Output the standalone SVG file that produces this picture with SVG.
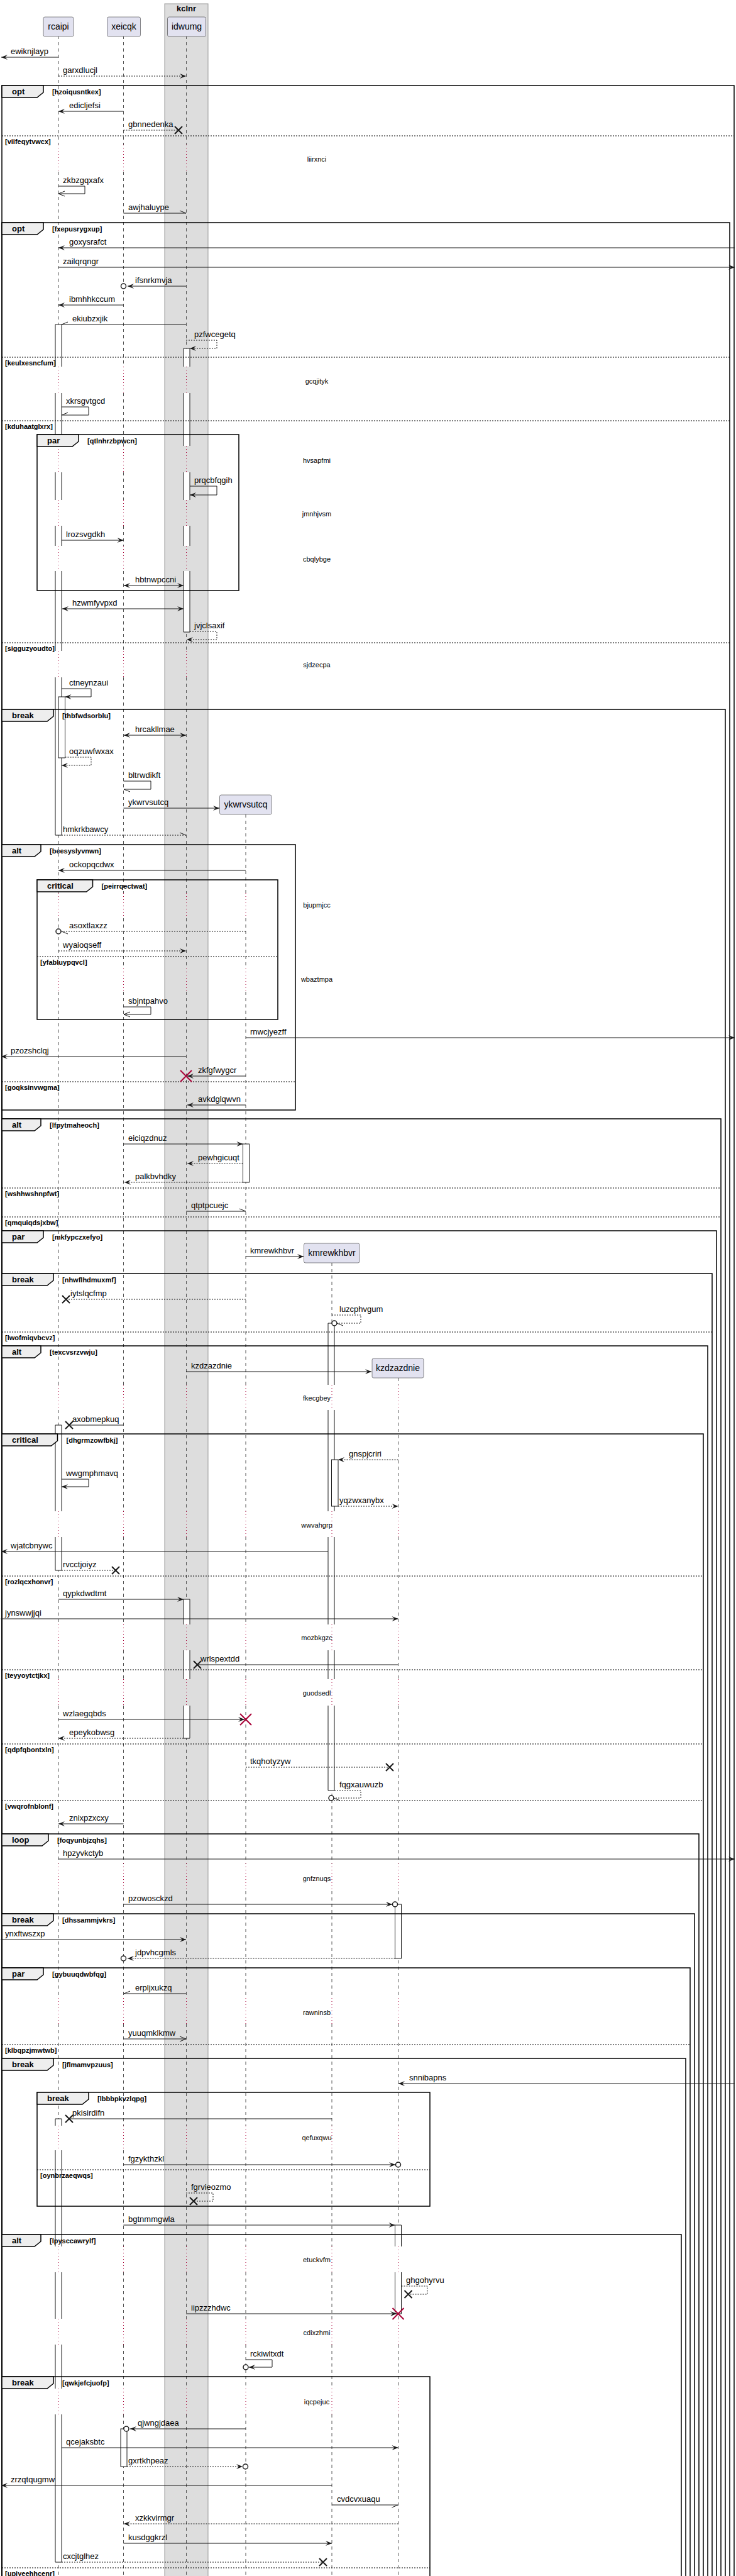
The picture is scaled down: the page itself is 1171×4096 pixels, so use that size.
<svg xmlns="http://www.w3.org/2000/svg" width="1171" height="4096" viewBox="0 0 1171 4096">
<style>
.msg{stroke:#181818;stroke-width:1;fill:none}
.dash{stroke-dasharray:2 2}
.lbl{font-family:"Liberation Sans",Arial,sans-serif;font-size:13px;fill:#000}
.cond{font-family:"Liberation Sans",Arial,sans-serif;font-size:11px;font-weight:bold;fill:#000}
.tabt{font-family:"Liberation Sans",Arial,sans-serif;font-size:13px;font-weight:bold;fill:#000}
.dly{font-family:"Liberation Sans",Arial,sans-serif;font-size:11px;fill:#000;text-anchor:middle}
.pname{font-family:"Liberation Sans",Arial,sans-serif;font-size:14px;fill:#000;text-anchor:middle}
.frame{fill:none;stroke:#000;stroke-width:1.5}
.tab{fill:#EEEEEE;stroke:#000;stroke-width:1.5}
.sep{stroke:#000;stroke-width:1;stroke-dasharray:2 2}
.life{stroke:#555;stroke-width:1;stroke-dasharray:5 5;fill:none}
.dot{stroke:#A80036;stroke-width:1;stroke-dasharray:1 4;fill:none}
.actf{fill:#fff;stroke:none}
.acts{fill:none;stroke:#181818;stroke-width:1}
.act{fill:#fff;stroke:#181818;stroke-width:1}
.part{fill:#E2E2F0;stroke:#181818;stroke-width:0.5}
.xb{stroke:#181818;stroke-width:2}
.xr{stroke:#A80036;stroke-width:2}
.circ{fill:#fff;stroke:#181818;stroke-width:1.5}
</style>
<defs>
<marker id="af" viewBox="0 0 12 10" refX="11" refY="5" markerWidth="12" markerHeight="10" markerUnits="userSpaceOnUse" orient="auto-start-reverse"><path d="M1,1 L11,5 L1,9 L5,5 Z" fill="#181818" stroke="none"/></marker>
<marker id="ao" viewBox="0 0 12 10" refX="11" refY="5" markerWidth="12" markerHeight="10" markerUnits="userSpaceOnUse" orient="auto"><path d="M1,1 L11,5 L1,9" fill="none" stroke="#181818" stroke-width="1"/></marker>
<marker id="hu" viewBox="0 0 12 10" refX="11" refY="5" markerWidth="12" markerHeight="10" markerUnits="userSpaceOnUse" orient="auto"><path d="M1,1 L11,5" fill="none" stroke="#181818" stroke-width="1"/></marker>
<marker id="hl" viewBox="0 0 12 10" refX="11" refY="5" markerWidth="12" markerHeight="10" markerUnits="userSpaceOnUse" orient="auto"><path d="M1,9 L11,5" fill="none" stroke="#181818" stroke-width="1"/></marker>
<path id="llA" d="M0,57 V230 M0,273 V583 M0,625 V709 M0,751 V795 M0,836 V868 M0,908 V1035 M0,1077 V1420 M0,1460 V1540 M0,1577 V2202 M0,2242 V2403 M0,2444 V2583 M0,2624 V2670 M0,2712 V2963 M0,3007 V3177 M0,3218 V3380 M0,3419 V3572 M0,3613 V3687 M0,3728 V3798 M0,3839 V4096"/>
<path id="dA" d="M0,230 V273 M0,583 V625 M0,709 V751 M0,795 V836 M0,868 V908 M0,1035 V1077 M0,1420 V1460 M0,1540 V1577 M0,2202 V2242 M0,2403 V2444 M0,2583 V2624 M0,2670 V2712 M0,2963 V3007 M0,3177 V3218 M0,3380 V3419 M0,3572 V3613 M0,3687 V3728 M0,3798 V3839"/>
<path id="llB" d="M0,1295 V1420 M0,1460 V1540 M0,1577 V2202 M0,2242 V2403 M0,2444 V2583 M0,2624 V2670 M0,2712 V2963 M0,3007 V3177 M0,3218 V3380 M0,3419 V3572 M0,3613 V3687 M0,3728 V3798 M0,3839 V4096"/>
<path id="dB" d="M0,1420 V1460 M0,1540 V1577 M0,2202 V2242 M0,2403 V2444 M0,2583 V2624 M0,2670 V2712 M0,2963 V3007 M0,3177 V3218 M0,3380 V3419 M0,3572 V3613 M0,3687 V3728 M0,3798 V3839"/>
<path id="llC" d="M0,2008 V2202 M0,2242 V2403 M0,2444 V2583 M0,2624 V2670 M0,2712 V2963 M0,3007 V3177 M0,3218 V3380 M0,3419 V3572 M0,3613 V3687 M0,3728 V3798 M0,3839 V4096"/>
<path id="llD" d="M0,2191 V2202 M0,2242 V2403 M0,2444 V2583 M0,2624 V2670 M0,2712 V2963 M0,3007 V3177 M0,3218 V3380 M0,3419 V3572 M0,3613 V3687 M0,3728 V3798 M0,3839 V4096"/>
<path id="dC" d="M0,2202 V2242 M0,2403 V2444 M0,2583 V2624 M0,2670 V2712 M0,2963 V3007 M0,3177 V3218 M0,3380 V3419 M0,3572 V3613 M0,3687 V3728 M0,3798 V3839"/>
</defs>
<rect x="0" y="0" width="1171" height="4096" fill="#fff"/>
<g id="box-kclnr">
<rect x="262" y="6" width="69" height="4100" fill="#DDDDDD" stroke="#999" stroke-width="1"/>
<text x="296.5" y="18" class="tabt" text-anchor="middle">kclnr</text>
</g>
<g id="lifelines">
<use href="#llA" x="93" class="life"/><use href="#dA" x="93" class="dot"/>
<use href="#llA" x="196.5" class="life"/><use href="#dA" x="196.5" class="dot"/>
<use href="#llA" x="296.5" class="life"/><use href="#dA" x="296.5" class="dot"/>
<use href="#llB" x="391" class="life"/><use href="#dB" x="391" class="dot"/>
<use href="#llC" x="528" class="life"/><use href="#dC" x="528" class="dot"/>
<use href="#llD" x="633.5" class="life"/><use href="#dC" x="633.5" class="dot"/>
</g>
<g id="p-rcaipi"><rect x="69" y="27" width="48" height="31" rx="2.5" class="part"/><text x="93" y="47" class="pname">rcaipi</text></g>
<g id="p-xeicqk"><rect x="170.5" y="27" width="53" height="31" rx="2.5" class="part"/><text x="197" y="47" class="pname">xeicqk</text></g>
<g id="p-idwumg"><rect x="266.5" y="27" width="61" height="31" rx="2.5" class="part"/><text x="297" y="47" class="pname">idwumg</text></g>
<g id="p-ykwrvsutcq"><rect x="349.5" y="1264" width="82.5" height="31" rx="2.5" class="part"/><text x="391" y="1284" class="pname">ykwrvsutcq</text></g>
<g id="p-kmrewkhbvr"><rect x="483.5" y="1977" width="88.5" height="31" rx="2.5" class="part"/><text x="528" y="1997" class="pname">kmrewkhbvr</text></g>
<g id="p-kzdzazdnie"><rect x="592" y="2160" width="82" height="31" rx="2.5" class="part"/><text x="633" y="2180" class="pname">kzdzazdnie</text></g>
<g id="activations">
<g><rect class="actf" x="88" y="516" width="10" height="67"/><rect class="actf" x="88" y="625" width="10" height="84"/><rect class="actf" x="88" y="751" width="10" height="44"/><rect class="actf" x="88" y="836" width="10" height="32"/><rect class="actf" x="88" y="908" width="10" height="127"/><rect class="actf" x="88" y="1077" width="10" height="251"/>
<path class="acts" d="M88,516 H98 M88,516 V583 M98,516 V583 M88,625 V709 M98,625 V709 M88,751 V795 M98,751 V795 M88,836 V868 M98,836 V868 M88,908 V1035 M98,908 V1035 M88,1077 V1328 M98,1077 V1328 M88,1328 H98"/></g>
<rect class="act" x="93" y="1108" width="10.5" height="97"/>
<g><rect class="actf" x="88" y="2266" width="10" height="137"/><rect class="actf" x="88" y="2444" width="10" height="53"/>
<path class="acts" d="M88,2266 H98 M88,2266 V2403 M98,2266 V2403 M88,2444 V2497 M98,2444 V2497 M88,2497 H98"/></g>
<g><rect class="actf" x="88" y="3369" width="10" height="11"/><rect class="actf" x="88" y="3419" width="10" height="153"/><rect class="actf" x="88" y="3613" width="10" height="74"/><rect class="actf" x="88" y="3728" width="10" height="70"/><rect class="actf" x="88" y="3839" width="10" height="235"/>
<path class="acts" d="M88,3369 H98 M88,3369 V3380 M98,3369 V3380 M88,3419 V3572 M98,3419 V3572 M88,3613 V3687 M98,3613 V3687 M88,3728 V3798 M98,3728 V3798 M88,3839 V4074 M98,3839 V4074 M88,4074 H98"/></g>
<g><rect class="actf" x="292" y="554" width="10" height="29"/><rect class="actf" x="292" y="625" width="10" height="84"/><rect class="actf" x="292" y="751" width="10" height="44"/><rect class="actf" x="292" y="836" width="10" height="32"/><rect class="actf" x="292" y="908" width="10" height="97"/>
<path class="acts" d="M292,554 H302 M292,554 V583 M302,554 V583 M292,625 V709 M302,625 V709 M292,751 V795 M302,751 V795 M292,836 V868 M302,836 V868 M292,908 V1005 M302,908 V1005 M292,1005 H302"/></g>
<g><rect class="actf" x="292" y="2543" width="10" height="40"/><rect class="actf" x="292" y="2624" width="10" height="46"/><rect class="actf" x="292" y="2712" width="10" height="52"/>
<path class="acts" d="M292,2543 H302 M292,2543 V2583 M302,2543 V2583 M292,2624 V2670 M302,2624 V2670 M292,2712 V2764 M302,2712 V2764 M292,2764 H302"/></g>
<rect class="act" x="386.5" y="1819" width="10" height="61"/>
<g><rect class="actf" x="522" y="2104" width="10" height="98"/><rect class="actf" x="522" y="2242" width="10" height="161"/><rect class="actf" x="522" y="2444" width="10" height="139"/><rect class="actf" x="522" y="2624" width="10" height="46"/><rect class="actf" x="522" y="2712" width="10" height="135"/>
<path class="acts" d="M522,2104 H532 M522,2104 V2202 M532,2104 V2202 M522,2242 V2403 M532,2242 V2403 M522,2444 V2583 M532,2444 V2583 M522,2624 V2670 M532,2624 V2670 M522,2712 V2847 M532,2712 V2847 M522,2847 H532"/></g>
<rect class="act" x="527.5" y="2321" width="10.5" height="74"/>
<rect class="act" x="628.5" y="3028" width="10" height="86"/>
<g><rect class="actf" x="628.5" y="3538" width="10" height="34"/><rect class="actf" x="628.5" y="3613" width="10" height="66"/>
<path class="acts" d="M628.5,3538 H638.5 M628.5,3538 V3572 M638.5,3538 V3572 M628.5,3613 V3679 M638.5,3613 V3679 M628.5,3679 H638.5"/></g>
<rect class="act" x="192" y="3862" width="10" height="60"/>
</g>
<g id="frames">
<g id="f1"><path class="frame" d="M3,4120 V136 H1168 V4120"/><polygon class="tab" points="3,136 69,136 69,147 59,155 3,155"/><text x="19" y="150" class="tabt">opt</text><text x="83" y="150" class="cond">[hzoiqusntkex]</text>
<line class="sep" x1="3" y1="216" x2="1168" y2="216"/><text x="8" y="229" class="cond">[viifeqytvwcx]</text></g>
<g id="f2"><path class="frame" d="M3,4120 V354 H1161 V4120"/><polygon class="tab" points="3,354 69,354 69,365 59,373 3,373"/><text x="19" y="368" class="tabt">opt</text><text x="83" y="368" class="cond">[fxepusrygxup]</text>
<line class="sep" x1="3" y1="568" x2="1161" y2="568"/><text x="8" y="581" class="cond">[keulxesncfum]</text>
<line class="sep" x1="3" y1="669" x2="1161" y2="669"/><text x="8" y="682" class="cond">[kduhaatglxrx]</text>
<line class="sep" x1="3" y1="1022" x2="1161" y2="1022"/><text x="8" y="1035" class="cond">[sigguzyoudto]</text></g>
<g id="f3"><rect class="frame" x="59" y="691" width="321" height="248"/><polygon class="tab" points="59,691 125,691 125,702 115,710 59,710"/><text x="75" y="705" class="tabt">par</text><text x="139" y="705" class="cond">[qtlnhrzbpwcn]</text></g>
<g id="f4"><path class="frame" d="M3,4120 V1128 H1154 V4120"/><polygon class="tab" points="3,1128 85,1128 85,1139 75,1147 3,1147"/><text x="19" y="1142" class="tabt">break</text><text x="99" y="1142" class="cond">[thbfwdsorblu]</text></g>
<g id="f5"><rect class="frame" x="3" y="1343" width="467" height="422"/><polygon class="tab" points="3,1343 65,1343 65,1354 55,1362 3,1362"/><text x="19" y="1357" class="tabt">alt</text><text x="79" y="1357" class="cond">[beesyslyvnwn]</text>
<line class="sep" x1="3" y1="1720" x2="470" y2="1720"/><text x="8" y="1733" class="cond">[goqksinvwgma]</text></g>
<g id="f6"><rect class="frame" x="59" y="1399" width="383" height="222"/><polygon class="tab" points="59,1399 147.5,1399 147.5,1410 137.5,1418 59,1418"/><text x="75" y="1413" class="tabt">critical</text><text x="161.5" y="1413" class="cond">[peirrqectwat]</text>
<line class="sep" x1="59" y1="1521" x2="442" y2="1521"/><text x="64" y="1534" class="cond">[yfabluypqvcl]</text></g>
<g id="f7"><path class="frame" d="M3,4120 V1779 H1147 V4120"/><polygon class="tab" points="3,1779 65,1779 65,1790 55,1798 3,1798"/><text x="19" y="1793" class="tabt">alt</text><text x="79" y="1793" class="cond">[lfpytmaheoch]</text>
<line class="sep" x1="3" y1="1889" x2="1147" y2="1889"/><text x="8" y="1902" class="cond">[wshhwshnpfwt]</text>
<line class="sep" x1="3" y1="1935" x2="1147" y2="1935"/><text x="8" y="1948" class="cond">[qmquiqdsjxbw]</text></g>
<g id="f8"><path class="frame" d="M3,4120 V1957 H1140 V4120"/><polygon class="tab" points="3,1957 69,1957 69,1968 59,1976 3,1976"/><text x="19" y="1971" class="tabt">par</text><text x="83" y="1971" class="cond">[mkfypczxefyo]</text></g>
<g id="f9"><path class="frame" d="M3,4120 V2025 H1133 V4120"/><polygon class="tab" points="3,2025 85,2025 85,2036 75,2044 3,2044"/><text x="19" y="2039" class="tabt">break</text><text x="99" y="2039" class="cond">[nhwflhdmuxmf]</text>
<line class="sep" x1="3" y1="2118" x2="1133" y2="2118"/><text x="8" y="2131" class="cond">[lwofmiqvbcvz]</text></g>
<g id="f10"><path class="frame" d="M3,4120 V2140 H1126 V4120"/><polygon class="tab" points="3,2140 65,2140 65,2151 55,2159 3,2159"/><text x="19" y="2154" class="tabt">alt</text><text x="79" y="2154" class="cond">[texcvsrzvwju]</text></g>
<g id="f11"><path class="frame" d="M3,4120 V2280 H1119 V4120"/><polygon class="tab" points="3,2280 91.5,2280 91.5,2291 81.5,2299 3,2299"/><text x="19" y="2294" class="tabt">critical</text><text x="105.5" y="2294" class="cond">[dhgrmzowfbkj]</text>
<line class="sep" x1="3" y1="2506" x2="1119" y2="2506"/><text x="8" y="2519" class="cond">[rozlqcxhonvr]</text>
<line class="sep" x1="3" y1="2655" x2="1119" y2="2655"/><text x="8" y="2668" class="cond">[teyyoytctjkx]</text>
<line class="sep" x1="3" y1="2773" x2="1119" y2="2773"/><text x="8" y="2786" class="cond">[qdpfqbontxln]</text>
<line class="sep" x1="3" y1="2863" x2="1119" y2="2863"/><text x="8" y="2876" class="cond">[vwqrofnblonf]</text></g>
<g id="f12"><path class="frame" d="M3,4120 V2916 H1112 V4120"/><polygon class="tab" points="3,2916 77,2916 77,2927 67,2935 3,2935"/><text x="19" y="2930" class="tabt">loop</text><text x="91" y="2930" class="cond">[foqyunbjzqhs]</text></g>
<g id="f13"><path class="frame" d="M3,4120 V3043 H1105 V4120"/><polygon class="tab" points="3,3043 85,3043 85,3054 75,3062 3,3062"/><text x="19" y="3057" class="tabt">break</text><text x="99" y="3057" class="cond">[dhssammjvkrs]</text></g>
<g id="f14"><path class="frame" d="M3,4120 V3129 H1098 V4120"/><polygon class="tab" points="3,3129 69,3129 69,3140 59,3148 3,3148"/><text x="19" y="3143" class="tabt">par</text><text x="83" y="3143" class="cond">[gybuuqdwbfqg]</text>
<line class="sep" x1="3" y1="3251" x2="1098" y2="3251"/><text x="8" y="3264" class="cond">[klbqpzjmwtwb]</text></g>
<g id="f15"><path class="frame" d="M3,4120 V3273 H1091 V4120"/><polygon class="tab" points="3,3273 85,3273 85,3284 75,3292 3,3292"/><text x="19" y="3287" class="tabt">break</text><text x="99" y="3287" class="cond">[jflmamvpzuus]</text></g>
<g id="f16"><rect class="frame" x="59" y="3327" width="625" height="181"/><polygon class="tab" points="59,3327 141,3327 141,3338 131,3346 59,3346"/><text x="75" y="3341" class="tabt">break</text><text x="155" y="3341" class="cond">[lbbbpkvzlqpg]</text>
<line class="sep" x1="59" y1="3450" x2="684" y2="3450"/><text x="64" y="3463" class="cond">[oynbrzaeqwqs]</text></g>
<g id="f17"><path class="frame" d="M3,4120 V3553 H1084 V4120"/><polygon class="tab" points="3,3553 65,3553 65,3564 55,3572 3,3572"/><text x="19" y="3567" class="tabt">alt</text><text x="79" y="3567" class="cond">[lpysccawrylf]</text></g>
<g id="f18"><path class="frame" d="M3,4120 V3779 H684 V4120"/><polygon class="tab" points="3,3779 85,3779 85,3790 75,3798 3,3798"/><text x="19" y="3793" class="tabt">break</text><text x="99" y="3793" class="cond">[qwkjefcjuofp]</text>
<line class="sep" x1="3" y1="4083" x2="684" y2="4083"/><text x="8" y="4096" class="cond">[upjyeehhcenr]</text></g>
</g>
<g id="delays">
<text x="504" y="257" class="dly">liirxnci</text>
<text x="504" y="610" class="dly">gcqjityk</text>
<text x="504" y="736" class="dly">hvsapfmi</text>
<text x="504" y="821" class="dly">jmnhjvsm</text>
<text x="504" y="893" class="dly">cbqlybge</text>
<text x="504" y="1061" class="dly">sjdzecpa</text>
<text x="504" y="1443" class="dly">bjupmjcc</text>
<text x="504" y="1561" class="dly">wbaztmpa</text>
<text x="504" y="2227" class="dly">fkecgbey</text>
<text x="504" y="2429" class="dly">wwvahgrp</text>
<text x="504" y="2608" class="dly">mozbkgzc</text>
<text x="504" y="2696" class="dly">guodsedl</text>
<text x="504" y="2991" class="dly">gnfznuqs</text>
<text x="504" y="3204" class="dly">rawninsb</text>
<text x="504" y="3403" class="dly">qefuxqwu</text>
<text x="504" y="3597" class="dly">etuckvfm</text>
<text x="504" y="3713" class="dly">cdixzhmi</text>
<text x="504" y="3823" class="dly">iqcpejuc</text>
</g>
<g id="connectors">
<line class="msg" x1="93" y1="91" x2="2" y2="91" marker-end="url(#af)"/><text x="17" y="86" class="lbl">ewiknjlayp</text>
<line class="msg dash" x1="93" y1="121" x2="296" y2="121" marker-end="url(#af)"/><text x="100" y="116" class="lbl">garxdlucjl</text>
<line class="msg" x1="196.5" y1="177" x2="93" y2="177" marker-end="url(#af)"/><text x="110" y="172" class="lbl">edicljefsi</text>
<line class="msg dash" x1="196.5" y1="207" x2="284" y2="207"/><path class="xb" d="M278,201 L290,213 M290,201 L278,213"/><text x="204" y="202" class="lbl">gbnnedenka</text>
<path class="msg" d="M93,296 H135 V308 H93" marker-end="url(#ao)"/><text x="100" y="291" class="lbl">zkbzgqxafx</text>
<line class="msg" x1="196.5" y1="339" x2="296" y2="339" marker-end="url(#hu)"/><text x="204" y="334" class="lbl">awjhaluype</text>
<line class="msg" x1="1169" y1="394" x2="93" y2="394" marker-end="url(#af)"/><text x="110" y="389" class="lbl">goxysrafct</text>
<line class="msg" x1="93" y1="425" x2="1169" y2="425" marker-end="url(#af)"/><text x="100" y="420" class="lbl">zailqrqngr</text>
<line class="msg" x1="296" y1="455" x2="203" y2="455" marker-end="url(#af)"/><circle class="circ" cx="196.5" cy="455" r="4"/><text x="215" y="450" class="lbl">ifsnrkmvja</text>
<line class="msg" x1="196.5" y1="485" x2="93" y2="485" marker-end="url(#af)"/><text x="110" y="480" class="lbl">ibmhhkccum</text>
<line class="msg" x1="296" y1="516" x2="98" y2="516" marker-end="url(#hl)"/><text x="115" y="511" class="lbl">ekiubzxjik</text>
<path class="msg dash" d="M296,541 H345 V554 H302" marker-end="url(#af)"/><text x="309" y="536" class="lbl">pzfwcegetq</text>
<path class="msg" d="M98,647 H141 V660 H98" marker-end="url(#hl)"/><text x="105" y="642" class="lbl">xkrsgvtgcd</text>
<path class="msg" d="M302,773 H345 V787 H302" marker-end="url(#af)"/><text x="309" y="768" class="lbl">prqcbfqgih</text>
<line class="msg" x1="98" y1="859" x2="196.5" y2="859" marker-end="url(#af)"/><text x="105" y="854" class="lbl">lrozsvgdkh</text>
<line class="msg" x1="197" y1="931" x2="292" y2="931" marker-start="url(#af)" marker-end="url(#af)"/><text x="215" y="926" class="lbl">hbtnwpccni</text>
<line class="msg" x1="99" y1="968" x2="292" y2="968" marker-start="url(#af)" marker-end="url(#af)"/><text x="115" y="963" class="lbl">hzwmfyvpxd</text>
<path class="msg dash" d="M302,1004 H345 V1017 H297" marker-end="url(#af)"/><text x="309" y="999" class="lbl">jvjclsaxif</text>
<path class="msg" d="M98,1095 H145 V1108 H103.5" marker-end="url(#af)"/><text x="110" y="1090" class="lbl">ctneynzaui</text>
<line class="msg" x1="197" y1="1169" x2="296" y2="1169" marker-start="url(#af)" marker-end="url(#af)"/><text x="215" y="1164" class="lbl">hrcakllmae</text>
<path class="msg dash" d="M103.5,1204 H145 V1217 H98" marker-end="url(#af)"/><text x="110" y="1199" class="lbl">oqzuwfwxax</text>
<path class="msg" d="M196.5,1242 H240 V1255 H197" marker-end="url(#hu)"/><text x="204" y="1237" class="lbl">bltrwdikft</text>
<line class="msg" x1="196.5" y1="1285" x2="349" y2="1285" marker-end="url(#af)"/><text x="204" y="1280" class="lbl">ykwrvsutcq</text>
<line class="msg dash" x1="98" y1="1328" x2="296" y2="1328" marker-end="url(#hu)"/><text x="100" y="1323" class="lbl">hmkrkbawcy</text>
<line class="msg" x1="391" y1="1384" x2="93" y2="1384" marker-end="url(#af)"/><text x="110" y="1379" class="lbl">ockopqcdwx</text>
<line class="msg dash" x1="391" y1="1481" x2="98" y2="1481" marker-end="url(#hu)"/><circle class="circ" cx="93" cy="1481" r="4"/><text x="110" y="1476" class="lbl">asoxtlaxzz</text>
<line class="msg dash" x1="93" y1="1512" x2="296" y2="1512" marker-end="url(#af)"/><text x="100" y="1507" class="lbl">wyaioqseff</text>
<path class="msg" d="M196.5,1601 H240 V1613 H197" marker-end="url(#ao)"/><text x="204" y="1596" class="lbl">sbjntpahvo</text>
<line class="msg" x1="391" y1="1650" x2="1169" y2="1650" marker-end="url(#af)"/><text x="398" y="1645" class="lbl">rnwcjyezff</text>
<line class="msg" x1="296" y1="1680" x2="2" y2="1680" marker-end="url(#af)"/><text x="17" y="1675" class="lbl">pzozshclqj</text>
<line class="msg" x1="391" y1="1711" x2="298" y2="1711" marker-end="url(#af)"/><path class="xr" d="M287,1702 L305,1720 M305,1702 L287,1720"/><text x="315" y="1706" class="lbl">zkfgfwygcr</text>
<line class="msg" x1="391" y1="1757" x2="298" y2="1757" marker-end="url(#af)"/><text x="315" y="1752" class="lbl">avkdglqwvn</text>
<line class="msg" x1="196.5" y1="1819" x2="386.5" y2="1819" marker-end="url(#af)"/><text x="204" y="1814" class="lbl">eiciqzdnuz</text>
<line class="msg dash" x1="386.5" y1="1850" x2="298" y2="1850" marker-end="url(#af)"/><text x="315" y="1845" class="lbl">pewhgicuqt</text>
<line class="msg dash" x1="386.5" y1="1880" x2="198" y2="1880" marker-end="url(#af)"/><text x="215" y="1875" class="lbl">palkbvhdky</text>
<line class="msg" x1="296" y1="1926" x2="391" y2="1926" marker-end="url(#hu)"/><text x="304" y="1921" class="lbl">qtptpcuejc</text>
<line class="msg" x1="391" y1="1998" x2="483" y2="1998" marker-end="url(#af)"/><text x="398" y="1993" class="lbl">kmrewkhbvr</text>
<line class="msg dash" x1="391" y1="2066" x2="105" y2="2066"/><path class="xb" d="M99,2060 L111,2072 M111,2060 L99,2072"/><text x="112" y="2061" class="lbl">iytslqcfmp</text>
<path class="msg dash" d="M528,2091 H574 V2104 H536" marker-end="url(#hu)"/><circle class="circ" cx="532" cy="2104" r="4"/><text x="540" y="2086" class="lbl">luzcphvgum</text>
<line class="msg" x1="296" y1="2181" x2="591" y2="2181" marker-end="url(#af)"/><text x="304" y="2176" class="lbl">kzdzazdnie</text>
<line class="msg" x1="196.5" y1="2266" x2="110" y2="2266"/><path class="xb" d="M104,2260 L116,2272 M116,2260 L104,2272"/><text x="115" y="2261" class="lbl">axobmepkuq</text>
<line class="msg dash" x1="633.5" y1="2321" x2="538" y2="2321" marker-end="url(#af)"/><text x="555" y="2316" class="lbl">gnspjcriri</text>
<path class="msg" d="M98,2352 H141 V2364 H98" marker-end="url(#af)"/><text x="105" y="2347" class="lbl">wwgmphmavq</text>
<line class="msg dash" x1="538" y1="2395" x2="633.5" y2="2395" marker-end="url(#af)"/><text x="540" y="2390" class="lbl">yqzwxanybx</text>
<line class="msg" x1="522" y1="2467" x2="2" y2="2467" marker-end="url(#af)"/><text x="17" y="2462" class="lbl">wjatcbnywc</text>
<line class="msg dash" x1="98" y1="2497" x2="184" y2="2497"/><path class="xb" d="M178,2491 L190,2503 M190,2491 L178,2503"/><text x="100" y="2492" class="lbl">rvcctjoiyz</text>
<line class="msg" x1="93" y1="2543" x2="292" y2="2543" marker-end="url(#af)"/><text x="100" y="2538" class="lbl">qypkdwdtmt</text>
<line class="msg" x1="1" y1="2574" x2="633.5" y2="2574" marker-end="url(#af)"/><text x="8" y="2569" class="lbl">jynswwjjqi</text>
<line class="msg" x1="633.5" y1="2647" x2="314" y2="2647"/><path class="xb" d="M308,2641 L320,2653 M320,2641 L308,2653"/><text x="319" y="2642" class="lbl">wrlspextdd</text>
<line class="msg" x1="93" y1="2734" x2="389" y2="2734" marker-end="url(#af)"/><path class="xr" d="M382,2725 L400,2743 M400,2725 L382,2743"/><text x="100" y="2729" class="lbl">wzlaegqbds</text>
<line class="msg dash" x1="292" y1="2764" x2="93" y2="2764" marker-end="url(#af)"/><text x="110" y="2759" class="lbl">epeykobwsg</text>
<line class="msg dash" x1="391" y1="2810" x2="620" y2="2810"/><path class="xb" d="M614,2804 L626,2816 M626,2804 L614,2816"/><text x="398" y="2805" class="lbl">tkqhotyzyw</text>
<path class="msg dash" d="M532,2847 H574 V2859 H531" marker-end="url(#hu)"/><circle class="circ" cx="527" cy="2859" r="4"/><text x="540" y="2842" class="lbl">fqgxauwuzb</text>
<line class="msg" x1="196.5" y1="2900" x2="93" y2="2900" marker-end="url(#af)"/><text x="110" y="2895" class="lbl">znixpzxcxy</text>
<line class="msg" x1="93" y1="2956" x2="1169" y2="2956" marker-end="url(#af)"/><text x="100" y="2951" class="lbl">hpzyvkctyb</text>
<line class="msg" x1="196.5" y1="3028" x2="624" y2="3028" marker-end="url(#af)"/><circle class="circ" cx="628.5" cy="3028" r="4"/><text x="204" y="3023" class="lbl">pzowosckzd</text>
<line class="msg" x1="1" y1="3084" x2="296" y2="3084" marker-end="url(#af)"/><text x="8" y="3079" class="lbl">ynxftwszxp</text>
<line class="msg dash" x1="628.5" y1="3114" x2="203" y2="3114" marker-end="url(#af)"/><circle class="circ" cx="196.5" cy="3114" r="4"/><text x="215" y="3109" class="lbl">jdpvhcgmls</text>
<line class="msg" x1="296" y1="3170" x2="197" y2="3170" marker-end="url(#hl)"/><text x="215" y="3165" class="lbl">erpljxukzq</text>
<line class="msg" x1="196.5" y1="3242" x2="296" y2="3242" marker-end="url(#ao)"/><text x="204" y="3237" class="lbl">yuuqmklkmw</text>
<line class="msg" x1="1169" y1="3313" x2="634" y2="3313" marker-end="url(#af)"/><text x="651" y="3308" class="lbl">snnibapns</text>
<line class="msg" x1="528" y1="3369" x2="110" y2="3369"/><path class="xb" d="M104,3363 L116,3375 M116,3363 L104,3375"/><text x="115" y="3364" class="lbl">pkisirdifn</text>
<line class="msg" x1="196.5" y1="3442" x2="629" y2="3442" marker-end="url(#af)"/><circle class="circ" cx="633.5" cy="3442" r="4"/><text x="204" y="3437" class="lbl">fgzykthzkl</text>
<path class="msg dash" d="M296,3487 H339 V3500 H308"/><path class="xb" d="M302,3494 L314,3506 M314,3494 L302,3506"/><text x="304" y="3482" class="lbl">fgrvieozmo</text>
<line class="msg" x1="196.5" y1="3538" x2="628.5" y2="3538" marker-end="url(#af)"/><text x="204" y="3533" class="lbl">bgtnmmgwla</text>
<path class="msg dash" d="M638.5,3635 H680 V3648 H649.5"/><path class="xb" d="M643.5,3642 L655.5,3654 M655.5,3642 L643.5,3654"/><text x="646" y="3630" class="lbl">ghgohyrvu</text>
<line class="msg" x1="296" y1="3679" x2="631" y2="3679" marker-end="url(#af)"/><path class="xr" d="M624.5,3670 L642.5,3688 M642.5,3670 L624.5,3688"/><text x="304" y="3674" class="lbl">iipzzzhdwc</text>
<path class="msg" d="M391,3752 H433 V3764 H396" marker-end="url(#af)"/><circle class="circ" cx="391" cy="3764" r="4"/><text x="398" y="3747" class="lbl">rckiwltxdt</text>
<line class="msg" x1="391" y1="3862" x2="207" y2="3862" marker-end="url(#af)"/><circle class="circ" cx="201" cy="3862" r="4"/><text x="219" y="3857" class="lbl">qjwngjdaea</text>
<line class="msg" x1="98" y1="3892" x2="633.5" y2="3892" marker-end="url(#af)"/><text x="105" y="3887" class="lbl">qcejaksbtc</text>
<line class="msg dash" x1="202" y1="3922" x2="386" y2="3922" marker-end="url(#af)"/><circle class="circ" cx="390.5" cy="3922" r="4"/><text x="204" y="3917" class="lbl">gxrtkhpeaz</text>
<line class="msg" x1="528" y1="3952" x2="2" y2="3952" marker-end="url(#af)"/><text x="17" y="3947" class="lbl">zrzqtqugmw</text>
<line class="msg" x1="528" y1="3983" x2="633.5" y2="3983" marker-end="url(#hl)"/><text x="536" y="3978" class="lbl">cvdcvxuaqu</text>
<line class="msg dash" x1="633.5" y1="4013" x2="197" y2="4013" marker-end="url(#af)"/><text x="215" y="4008" class="lbl">xzkkvirmgr</text>
<line class="msg" x1="196.5" y1="4044" x2="528" y2="4044" marker-end="url(#af)"/><text x="204" y="4039" class="lbl">kusdggkrzl</text>
<line class="msg dash" x1="98" y1="4074" x2="514" y2="4074"/><path class="xb" d="M508,4068 L520,4080 M520,4068 L508,4080"/><text x="100" y="4069" class="lbl">cxcjtglhez</text>
</g>
</svg>
